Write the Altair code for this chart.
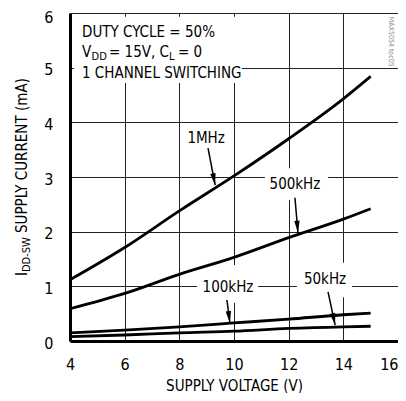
import math
import altair as alt
import pandas as pd

FONT = "DejaVu Sans Condensed, Liberation Sans Narrow, sans-serif"

# ---- data ----
voltage = [4, 6, 8, 10, 12, 14, 15]
i_1mhz = [1.12, 1.71, 2.38, 3.02, 3.70, 4.43, 4.84]
i_500khz = [0.59, 0.87, 1.22, 1.53, 1.89, 2.23, 2.42]
i_100khz = [0.15, 0.20, 0.26, 0.33, 0.40, 0.48, 0.51]
i_50khz = [0.08, 0.11, 0.15, 0.18, 0.23, 0.26, 0.27]
series_names = ["1MHz", "500kHz", "100kHz", "50kHz"]

x_ticks = [4, 6, 8, 10, 12, 14, 16]
y_ticks = [0, 1, 2, 3, 4, 5, 6]

# annotation labels (data coordinates)
label_text = ["1MHz", "500kHz", "100kHz", "50kHz"]
label_x = [8.98, 12.23, 9.78, 13.33]
label_y = [3.72, 2.87, 0.98, 1.14]
arrow_x0 = [9.05, 12.23, 9.74, 13.44]
arrow_y0 = [3.53, 2.62, 0.75, 0.90]
arrow_x1 = [9.31, 12.34, 9.85, 13.70]
arrow_y1 = [2.85, 1.98, 0.33, 0.29]

# white boxes behind labels (hide grid lines)
box_x0 = [4.15, 11.13, 8.65, 12.30]
box_x1 = [10.29, 13.44, 10.88, 14.32]
box_y0 = [5.93, 3.16, 1.39, 1.43]
box_y1 = [4.72, 2.58, 0.70, 0.80]

# condition text block
cond_main_t = ["DUTY CYCLE = 50%", "V", "= 15V, C", "= 0", "1 CHANNEL SWITCHING"]
cond_main_x = [4.439, 4.439, 5.427, 7.951, 4.439]
cond_main_y = [5.561, 5.195, 5.195, 5.195, 4.811]
cond_sub_t = ["DD", "L"]
cond_sub_x = [4.787, 7.622]
cond_sub_y = [5.140, 5.140]

# y-axis title pieces (rotated)
ytitle_main_t = ["I", "SUPPLY CURRENT (mA)"]
ytitle_main_x = [2.427, 2.427]
ytitle_main_y = [1.189, 1.976]
ytitle_sub_t = ["DD-SW"]
ytitle_sub_x = [2.537]
ytitle_sub_y = [1.262]

PX_X = 328 / 12
PX_Y = 328 / 6

# ---- tables ----
rows = []
for name, vals in zip(series_names, [i_1mhz, i_500khz, i_100khz, i_50khz]):
    for v, i in zip(voltage, vals):
        rows.append({"x": v, "y": i, "series": name})
lines_df = pd.DataFrame(rows)

labels_df = pd.DataFrame({"t": label_text, "x": label_x, "y": label_y})
angles = []
for a, b, c, d in zip(arrow_x0, arrow_y0, arrow_x1, arrow_y1):
    dx = (c - a) * PX_X
    dy = -(d - b) * PX_Y
    angles.append(math.degrees(math.atan2(dx, -dy)) % 360)
arrows_df = pd.DataFrame({"x": arrow_x0, "y": arrow_y0, "x1": arrow_x1,
                          "y1": arrow_y1, "ang": angles})
heads_df = pd.DataFrame({"x": arrow_x1, "y": arrow_y1, "ang": angles})
boxes_df = pd.DataFrame({"x": box_x0, "x1": box_x1, "y": box_y0, "y1": box_y1})
cond_main_df = pd.DataFrame({"t": cond_main_t, "x": cond_main_x, "y": cond_main_y})
cond_sub_df = pd.DataFrame({"t": cond_sub_t, "x": cond_sub_x, "y": cond_sub_y})
yt_main_df = pd.DataFrame({"t": ytitle_main_t, "x": ytitle_main_x, "y": ytitle_main_y})
yt_sub_df = pd.DataFrame({"t": ytitle_sub_t, "x": ytitle_sub_x, "y": ytitle_sub_y})
tag_df = pd.DataFrame({"t": ["MAX5054 toc05"], "x": [15.67], "y": [5.93]})

xs = alt.Scale(domain=[4, 16], nice=False, zero=False)
ys = alt.Scale(domain=[0, 6], nice=False, zero=False)

AX = alt.Axis(
    values=x_ticks, title="SUPPLY VOLTAGE (V)", grid=True, ticks=False,
    domain=True, domainColor="black", domainWidth=3,
    labelFlush=False, labelPadding=15, labelFontSize=16,
    labelAlign=alt.expr("datum.value == 16 ? 'right' : 'center'"),
    titleFontSize=15, titleFontWeight="normal", titleY=49,
    titleBaseline="alphabetic", gridColor="#222", gridWidth=1,
    labelFont=FONT, titleFont=FONT, labelColor="black", titleColor="black")
AY = alt.Axis(
    values=y_ticks, title="", grid=True, ticks=False,
    domain=True, domainColor="black", domainWidth=3,
    labelFlush=False, labelPadding=17, labelFontSize=16,
    labelOffset=alt.expr("datum.value == 6 ? 4 : 2"),
    gridColor="#222", gridWidth=1, labelFont=FONT, labelColor="black")

X = alt.X("x:Q", scale=xs, axis=AX, title="SUPPLY VOLTAGE (V)")
Y = alt.Y("y:Q", scale=ys, axis=AY, title="")

lines = alt.Chart(lines_df).mark_line(
    color="black", strokeWidth=2.8, interpolate="monotone"
).encode(x=X, y=Y, detail="series:N")

boxes = alt.Chart(boxes_df).mark_rect(color="white").encode(
    x=X, x2="x1:Q", y=Y, y2="y1:Q",
)

rules = alt.Chart(arrows_df).mark_rule(color="black", strokeWidth=1.5).encode(
    x=X, x2="x1:Q", y=Y, y2="y1:Q",
)

heads = alt.Chart(heads_df).mark_point(
    shape="M0,0L0.45,2L-0.45,2Z", filled=True, color="black", opacity=1,
    size=144, strokeWidth=0
).encode(x=X, y=Y, angle=alt.Angle("ang:Q", scale=None))


def text_layer(df, size, align="left", baseline="alphabetic", angle=0, color="black"):
    kw = dict(font=FONT, fontSize=size, align=align, baseline=baseline, color=color)
    if angle:
        kw["angle"] = angle
    return alt.Chart(df).mark_text(**kw).encode(x=X, y=Y, text="t:N")


labels = text_layer(labels_df, 15, align="center", baseline="middle")
cond_main = text_layer(cond_main_df, 15)
cond_sub = text_layer(cond_sub_df, 11)
yt_main = text_layer(yt_main_df, 15, angle=270)
yt_sub = text_layer(yt_sub_df, 11, angle=270)
tag = text_layer(tag_df, 7, angle=90, color="#888")

chart = alt.layer(
    boxes, lines, rules, heads, labels, cond_main, cond_sub, yt_main, yt_sub, tag
).properties(
    width=328, height=328,
    autosize=alt.AutoSizeParams(type="none"),
    padding={"left": 62, "top": 5, "right": 0, "bottom": 52},
).configure_view(
    stroke="black", strokeWidth=3
).configure(
    background="white"
)

chart.save("out.html", embed_options={"renderer": "svg", "actions": False})
